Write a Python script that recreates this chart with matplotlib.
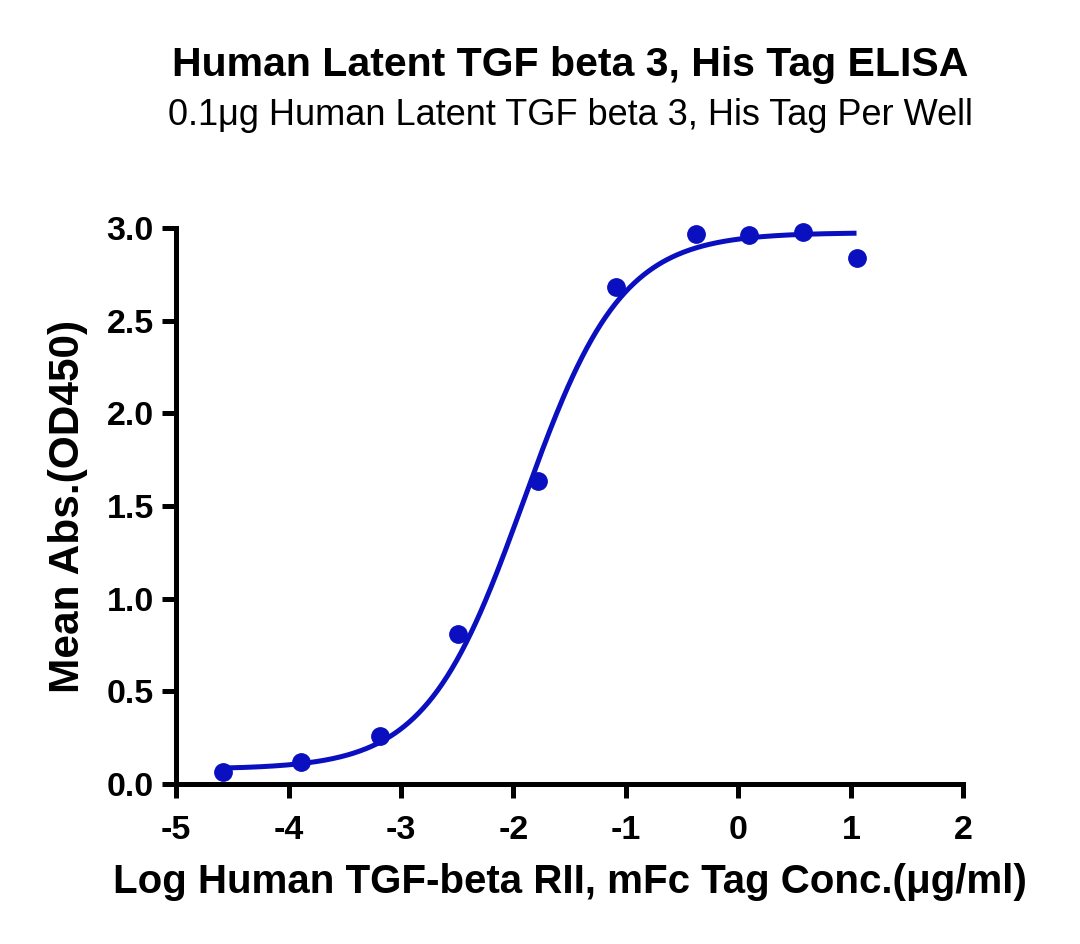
import numpy as np
import matplotlib
matplotlib.use("Agg")
import matplotlib.pyplot as plt

plt.rcParams['font.family'] = ['Liberation Sans', 'DejaVu Sans']

# Data
log_conc = [-4.58, -3.89, -3.19, -2.49, -1.78, -1.09, -0.38, 0.09, 0.57, 1.05]
mean_abs = [0.065, 0.12, 0.26, 0.81, 1.635, 2.68, 2.97, 2.96, 2.98, 2.84]

# 4PL fit parameters (estimated from the drawn curve)
fit_bottom = 0.08
fit_top = 2.975
fit_logec50 = -1.91
fit_hill = 1.0

x_ticks = [-5, -4, -3, -2, -1, 0, 1, 2]
y_ticks = [0.0, 0.5, 1.0, 1.5, 2.0, 2.5, 3.0]

title = "Human Latent TGF beta 3, His Tag ELISA"
subtitle = "0.1\u03bcg Human Latent TGF beta 3, His Tag Per Well"
xlabel = "Log Human TGF-beta RII, mFc Tag Conc.(\u03bcg/ml)"
ylabel = "Mean Abs.(OD450)"

color = '#0a0fbf'

fig = plt.figure(figsize=(10.8, 9.44), dpi=100)
ax = fig.add_axes([0.163, 0.1695, 0.729, 0.589])

xs = np.linspace(min(log_conc), max(log_conc), 400)
ys = fit_bottom + (fit_top - fit_bottom) / (1 + 10 ** ((fit_logec50 - xs) * fit_hill))
ax.plot(xs, ys, color=color, lw=3.6, zorder=2, clip_on=False, solid_capstyle='butt')
ax.plot(log_conc, mean_abs, 'o', color=color, ms=12.5, zorder=3, clip_on=False)

ax.set_xlim(-5, 2)
ax.set_ylim(0, 3.0)
ax.set_xticks(x_ticks)
ax.set_xticklabels([str(t) for t in x_ticks])
ax.set_yticks(y_ticks)
ax.set_yticklabels([f"{t:.1f}" for t in y_ticks])

for s in ['top', 'right']:
    ax.spines[s].set_visible(False)
for s in ['left', 'bottom']:
    ax.spines[s].set_linewidth(3.6)
    ax.spines[s].set_capstyle('projecting')
ax.tick_params(axis='both', width=3.6, length=10, direction='out', labelsize=24.5)
ax.tick_params(axis='x', pad=12)
ax.tick_params(axis='y', pad=6)
for lab in ax.get_xticklabels() + ax.get_yticklabels():
    lab.set_fontweight('bold')

ax.set_xlabel(xlabel, fontsize=29, fontweight='bold', va='center')
ax.xaxis.set_label_coords(0.5, -0.176)
ax.set_ylabel(ylabel, fontsize=30.5, fontweight='bold', va='center')
ax.yaxis.set_label_coords(-0.137, 0.5)

fig.text(0.528, 0.931, title, ha='center', va='center', fontsize=29.5, fontweight='bold')
fig.text(0.528, 0.878, subtitle, ha='center', va='center', fontsize=26)

fig.savefig('out.png', dpi=100)
